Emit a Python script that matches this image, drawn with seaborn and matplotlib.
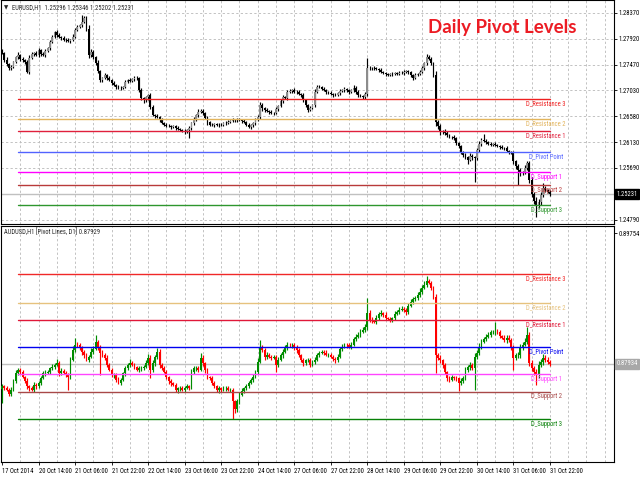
import warnings

import matplotlib

matplotlib.use("Agg")

import matplotlib.pyplot as plt
import matplotlib.transforms as mtransforms
import pandas as pd
import seaborn as sns
from matplotlib import font_manager

warnings.filterwarnings("ignore", category=UserWarning)

PIP = 0.0001

# EURUSD H1, 17 Oct 2014 .. 31 Oct 2014 (closes)
EUR_FIRST_OPEN = 1.2772
EUR_CLOSE = [
    1.2768, 1.2756, 1.2748, 1.2742, 1.2744, 1.2752, 1.2760, 1.2764, 1.2757, 1.2755,
    1.2752, 1.2735, 1.2759, 1.2766, 1.2768, 1.2764, 1.2773, 1.2766, 1.2764, 1.2772,
    1.2776, 1.2787, 1.2796, 1.2804, 1.2799, 1.2796, 1.2794, 1.2791, 1.2790, 1.2788,
    1.2790, 1.2796, 1.2808, 1.2813, 1.2816, 1.2822, 1.2828, 1.2810, 1.2764, 1.2770,
    1.2761, 1.2751, 1.2736, 1.2721, 1.2725, 1.2730, 1.2724, 1.2721, 1.2716, 1.2712,
    1.2709, 1.2707, 1.2708, 1.2709, 1.2718, 1.2721, 1.2720, 1.2722, 1.2724, 1.2725,
    1.2704, 1.2690, 1.2686, 1.2691, 1.2695, 1.2674, 1.2660, 1.2659, 1.2657, 1.2652,
    1.2647, 1.2644, 1.2641, 1.2642, 1.2640, 1.2641, 1.2638, 1.2636, 1.2635, 1.2633,
    1.2631, 1.2634, 1.2638, 1.2646, 1.2652, 1.2660, 1.2666, 1.2668, 1.2664, 1.2655,
    1.2648, 1.2644, 1.2643, 1.2645, 1.2643, 1.2644, 1.2643, 1.2646, 1.2647, 1.2649,
    1.2650, 1.2652, 1.2651, 1.2653, 1.2652, 1.2650, 1.2648, 1.2644, 1.2640, 1.2643,
    1.2646, 1.2652, 1.2657, 1.2678, 1.2672, 1.2669, 1.2667, 1.2666, 1.2664, 1.2664,
    1.2671, 1.2676, 1.2684, 1.2692, 1.2690, 1.2700, 1.2702, 1.2704, 1.2701, 1.2700,
    1.2697, 1.2695, 1.2686, 1.2678, 1.2669, 1.2673, 1.2677, 1.2701, 1.2709, 1.2709,
    1.2706, 1.2704, 1.2700, 1.2699, 1.2697, 1.2695, 1.2695, 1.2698, 1.2702, 1.2704,
    1.2706, 1.2703, 1.2700, 1.2703, 1.2708, 1.2700, 1.2695, 1.2693, 1.2692, 1.2697,
    1.2742, 1.2741, 1.2742, 1.2741, 1.2740, 1.2738, 1.2735, 1.2733, 1.2731, 1.2730,
    1.2732, 1.2731, 1.2733, 1.2732, 1.2734, 1.2733, 1.2735, 1.2736, 1.2735, 1.2730,
    1.2725, 1.2730, 1.2732, 1.2735, 1.2742, 1.2750, 1.2761, 1.2757, 1.2750, 1.2730,
    1.2648, 1.2641, 1.2631, 1.2633, 1.2630, 1.2625, 1.2622, 1.2622, 1.2620, 1.2612,
    1.2606, 1.2597, 1.2591, 1.2588, 1.2583, 1.2590, 1.2587, 1.2586, 1.2600, 1.2610,
    1.2617, 1.2616, 1.2613, 1.2610, 1.2609, 1.2610, 1.2609, 1.2607, 1.2605, 1.2603,
    1.2603, 1.2598, 1.2596, 1.2595, 1.2580, 1.2572, 1.2565, 1.2560, 1.2561, 1.2569,
    1.2577, 1.2548, 1.2524, 1.2512, 1.2505, 1.2510, 1.2522, 1.2534, 1.2530, 1.2528,
    1.2523,
]
# shadows above / below the body, in pips
EUR_UP_WICK = [
    3, 2, 4, 2, 3, 2, 3, 5, 2, 3, 2, 4, 6, 3, 2, 3, 4, 2, 3, 2,
    3, 4, 3, 2, 4, 3, 2, 3, 2, 3, 2, 4, 3, 4, 2, 12, 4, 3, 6, 5,
    3, 2, 4, 3, 2, 3, 2, 4, 2, 3, 2, 3, 2, 2, 3, 2, 3, 2, 4, 3,
    2, 3, 2, 3, 2, 4, 3, 2, 3, 2, 3, 2, 2, 3, 2, 3, 2, 3, 2, 2,
    3, 2, 4, 3, 5, 3, 4, 2, 3, 2, 3, 2, 3, 2, 2, 3, 2, 2, 3, 2,
    2, 3, 2, 2, 3, 2, 3, 2, 3, 2, 3, 4, 3, 5, 3, 2, 3, 2, 3, 2,
    3, 2, 4, 3, 2, 3, 3, 2, 3, 2, 3, 2, 3, 2, 2, 3, 2, 5, 4, 3,
    2, 3, 2, 2, 3, 2, 3, 2, 3, 2, 3, 2, 2, 3, 4, 2, 3, 2, 2, 3,
    17, 3, 2, 3, 2, 2, 3, 2, 2, 3, 2, 3, 2, 2, 3, 2, 3, 2, 3, 2,
    2, 3, 2, 3, 4, 3, 5, 4, 3, 2, 6, 3, 4, 2, 3, 2, 3, 2, 3, 3,
    2, 3, 2, 3, 2, 4, 3, 2, 4, 5, 3, 11, 3, 2, 3, 2, 3, 2, 2, 3,
    2, 3, 2, 3, 4, 3, 4, 3, 3, 5, 4, 3, 5, 4, 6, 5, 6, 8, 4, 3,
    3,
]
EUR_DOWN_WICK = [
    2, 3, 2, 4, 3, 2, 2, 3, 3, 2, 3, 2, 3, 2, 3, 2, 3, 4, 2, 3,
    2, 3, 2, 3, 3, 2, 3, 2, 3, 2, 3, 2, 2, 3, 2, 3, 2, 4, 5, 4,
    3, 4, 3, 4, 3, 2, 3, 2, 3, 2, 3, 2, 3, 2, 2, 3, 2, 3, 2, 3,
    4, 3, 5, 3, 4, 3, 2, 3, 2, 3, 2, 3, 2, 2, 3, 2, 3, 2, 3, 2,
    3, 2, 13, 4, 3, 2, 3, 2, 3, 2, 4, 3, 2, 3, 2, 3, 2, 2, 3, 2,
    3, 2, 3, 2, 2, 3, 2, 3, 2, 3, 4, 3, 2, 3, 4, 3, 2, 3, 2, 3,
    2, 3, 2, 3, 2, 3, 2, 3, 2, 3, 2, 3, 3, 4, 3, 2, 3, 2, 3, 2,
    3, 2, 3, 2, 2, 3, 2, 2, 3, 2, 3, 2, 3, 2, 3, 4, 3, 2, 3, 4,
    3, 2, 3, 2, 2, 3, 2, 2, 3, 2, 2, 3, 2, 2, 3, 2, 3, 2, 3, 3,
    4, 3, 2, 3, 2, 3, 3, 2, 3, 4, 6, 4, 5, 3, 4, 3, 2, 3, 2, 3,
    3, 4, 3, 4, 7, 3, 4, 41, 4, 3, 3, 2, 3, 2, 3, 2, 3, 2, 3, 2,
    3, 2, 3, 2, 4, 5, 26, 5, 4, 3, 4, 5, 6, 5, 21, 6, 5, 4, 3, 3,
    3,
]

# AUDUSD H1, same hours
AUD_FIRST_OPEN = 0.8758
AUD_CLOSE = [
    0.8762, 0.8760, 0.8757, 0.8752, 0.8757, 0.8769, 0.8780, 0.8785, 0.8782, 0.8775,
    0.8770, 0.8762, 0.8759, 0.8757, 0.8764, 0.8762, 0.8767, 0.8774, 0.8780, 0.8781,
    0.8782, 0.8787, 0.8789, 0.8792, 0.8795, 0.8781, 0.8784, 0.8781, 0.8778, 0.8775,
    0.8799, 0.8813, 0.8820, 0.8819, 0.8816, 0.8810, 0.8805, 0.8799, 0.8803, 0.8810,
    0.8814, 0.8824, 0.8817, 0.8809, 0.8806, 0.8802, 0.8792, 0.8785, 0.8778, 0.8778,
    0.8771, 0.8767, 0.8771, 0.8780, 0.8787, 0.8792, 0.8795, 0.8792, 0.8789, 0.8785,
    0.8787, 0.8788, 0.8789, 0.8795, 0.8802, 0.8785, 0.8794, 0.8803, 0.8810, 0.8792,
    0.8788, 0.8782, 0.8775, 0.8769, 0.8766, 0.8764, 0.8757, 0.8759, 0.8760, 0.8757,
    0.8760, 0.8762, 0.8760, 0.8782, 0.8787, 0.8788, 0.8785, 0.8802, 0.8794, 0.8785,
    0.8775, 0.8773, 0.8767, 0.8762, 0.8757, 0.8759, 0.8757, 0.8759, 0.8760, 0.8757,
    0.8757, 0.8741, 0.8730, 0.8741, 0.8750, 0.8756, 0.8759, 0.8762, 0.8767, 0.8771,
    0.8775, 0.8782, 0.8796, 0.8816, 0.8813, 0.8803, 0.8806, 0.8803, 0.8802, 0.8803,
    0.8792, 0.8799, 0.8805, 0.8810, 0.8816, 0.8820, 0.8819, 0.8820, 0.8817, 0.8812,
    0.8805, 0.8799, 0.8795, 0.8798, 0.8799, 0.8792, 0.8796, 0.8799, 0.8806, 0.8809,
    0.8810, 0.8809, 0.8806, 0.8806, 0.8803, 0.8800, 0.8799, 0.8803, 0.8814, 0.8817,
    0.8820, 0.8819, 0.8817, 0.8820, 0.8828, 0.8831, 0.8834, 0.8838, 0.8841, 0.8844,
    0.8864, 0.8855, 0.8853, 0.8852, 0.8857, 0.8863, 0.8864, 0.8862, 0.8857, 0.8856,
    0.8855, 0.8857, 0.8863, 0.8866, 0.8869, 0.8870, 0.8869, 0.8866, 0.8874, 0.8880,
    0.8883, 0.8885, 0.8889, 0.8894, 0.8899, 0.8903, 0.8908, 0.8906, 0.8899, 0.8887,
    0.8806, 0.8802, 0.8798, 0.8792, 0.8782, 0.8774, 0.8771, 0.8775, 0.8774, 0.8773,
    0.8767, 0.8770, 0.8774, 0.8785, 0.8789, 0.8792, 0.8788, 0.8803, 0.8809, 0.8817,
    0.8824, 0.8828, 0.8831, 0.8834, 0.8837, 0.8837, 0.8838, 0.8837, 0.8832, 0.8830,
    0.8827, 0.8830, 0.8827, 0.8816, 0.8802, 0.8805, 0.8806, 0.8816, 0.8820, 0.8824,
    0.8834, 0.8795, 0.8788, 0.8782, 0.8778, 0.8792, 0.8796, 0.8802, 0.8799, 0.8796,
    0.8793,
]
AUD_UP_WICK = [
    3, 2, 3, 2, 4, 3, 5, 3, 2, 3, 2, 3, 2, 3, 4, 2, 3, 2, 3, 4,
    3, 2, 4, 3, 5, 2, 3, 2, 3, 2, 4, 5, 10, 4, 3, 2, 3, 4, 3, 5,
    4, 10, 3, 2, 3, 2, 3, 2, 3, 2, 3, 4, 3, 2, 4, 3, 5, 2, 3, 2,
    3, 2, 3, 4, 5, 3, 4, 3, 6, 4, 3, 2, 3, 2, 3, 2, 3, 2, 2, 3,
    2, 3, 2, 4, 3, 2, 3, 7, 3, 2, 3, 2, 3, 2, 2, 3, 2, 3, 2, 3,
    2, 3, 2, 3, 4, 3, 2, 3, 2, 3, 4, 3, 5, 10, 4, 3, 4, 3, 2, 3,
    3, 4, 3, 4, 3, 4, 3, 2, 3, 2, 3, 2, 3, 2, 3, 2, 3, 4, 3, 2,
    3, 2, 3, 2, 3, 2, 3, 4, 3, 4, 3, 2, 3, 4, 3, 4, 3, 4, 3, 5,
    21, 4, 3, 2, 4, 3, 4, 2, 3, 2, 3, 2, 4, 3, 3, 4, 3, 2, 4, 3,
    4, 3, 4, 5, 4, 5, 8, 4, 3, 3, 3, 2, 3, 2, 3, 2, 3, 3, 2, 3,
    2, 3, 3, 4, 3, 4, 3, 5, 4, 5, 4, 3, 4, 3, 4, 3, 14, 4, 3, 2,
    3, 4, 3, 3, 4, 3, 4, 5, 4, 5, 11, 4, 3, 3, 4, 5, 4, 5, 3, 4,
    3,
]
AUD_DOWN_WICK = [
    19, 3, 2, 4, 3, 2, 3, 2, 3, 2, 3, 4, 3, 2, 3, 4, 2, 3, 2, 3,
    2, 3, 2, 3, 2, 4, 3, 2, 3, 18, 3, 2, 3, 2, 3, 4, 3, 2, 3, 2,
    3, 2, 4, 31, 3, 4, 3, 2, 3, 4, 3, 2, 3, 2, 3, 2, 3, 2, 3, 2,
    3, 4, 3, 2, 3, 11, 3, 4, 3, 4, 3, 2, 3, 4, 3, 2, 3, 4, 3, 2,
    3, 2, 3, 2, 3, 4, 3, 2, 3, 4, 3, 2, 3, 2, 3, 4, 3, 2, 3, 2,
    3, 25, 5, 4, 3, 2, 3, 2, 3, 2, 3, 2, 3, 2, 3, 4, 3, 2, 3, 2,
    10, 3, 2, 3, 2, 3, 2, 3, 4, 3, 2, 3, 4, 3, 2, 3, 2, 3, 2, 3,
    2, 3, 2, 3, 2, 3, 4, 3, 2, 3, 2, 3, 2, 3, 2, 3, 2, 3, 2, 3,
    3, 4, 3, 2, 3, 2, 3, 4, 3, 2, 3, 4, 3, 2, 3, 2, 3, 4, 3, 2,
    3, 2, 3, 2, 3, 2, 3, 2, 3, 4, 25, 4, 3, 4, 3, 4, 3, 2, 3, 4,
    12, 3, 4, 3, 3, 4, 3, 31, 3, 4, 3, 2, 3, 2, 3, 2, 3, 2, 3, 2,
    3, 4, 3, 3, 17, 4, 3, 4, 3, 2, 3, 5, 4, 4, 14, 4, 3, 4, 3, 3,
    3,
]

LEVEL_NAMES = ["D_Resistance 3", "D_Resistance 2", "D_Resistance 1", "D_Pivot Point",
               "D_Support 1", "D_Support 2", "D_Support 3"]
EUR_LEVELS = [1.26882, 1.26535, 1.26328, 1.25964, 1.25618, 1.25393, 1.25047]
AUD_LEVELS = [0.89184, 0.88780, 0.88544, 0.88168, 0.87785, 0.87545, 0.87165]
EUR_LEVEL_COLORS = ["#ee2020", "#e2b45c", "#e0203c", "#5262ff", "#ff00ff", "#b83a3a", "#2e962e"]
AUD_LEVEL_COLORS = ["#f02828", "#e6c27e", "#e01838", "#0000f0", "#ff44ff", "#a84848", "#078007"]

EUR_LAST = 1.25231
AUD_LAST = 0.87934
EUR_HEADER = "EURUSD,H1  1.25296 1.25346 1.25202 1.25231"
AUD_HEADER = "AUDUSD,H1 [Pivot Lines, D1] 0.87929"

EUR_TICKS = [1.28370, 1.27920, 1.27470, 1.27030, 1.26580, 1.26130, 1.25690, 1.24790]
AUD_TICKS = [0.89754, 0.86565]
TIME_LABELS = ["17 Oct 2014", "20 Oct 14:00", "21 Oct 06:00", "21 Oct 22:00", "22 Oct 14:00",
               "23 Oct 06:00", "23 Oct 22:00", "24 Oct 14:00", "27 Oct 06:00", "27 Oct 22:00",
               "28 Oct 14:00", "29 Oct 06:00", "29 Oct 22:00", "30 Oct 14:00", "31 Oct 06:00",
               "31 Oct 22:00"]
BARS_PER_LABEL = 16


def pick_font(candidates: list[str]) -> str:
    available = {font.name for font in font_manager.fontManager.ttflist}
    for name in candidates:
        if name in available:
            return name
    return "DejaVu Sans"


def build_candles(first_open, closes, up_wick, down_wick) -> pd.DataFrame:
    frame = pd.DataFrame({"close": closes, "up": up_wick, "down": down_wick})
    frame["bar"] = range(len(frame))
    frame["open"] = frame["close"].shift(1).fillna(first_open)
    frame["top"] = frame[["open", "close"]].max(axis=1)
    frame["bottom"] = frame[["open", "close"]].min(axis=1)
    frame["high"] = frame["top"] + frame["up"] * PIP
    frame["low"] = frame["bottom"] - frame["down"] * PIP
    frame["bull"] = frame["close"] >= frame["open"]
    return frame


def draw_candles(axis, frame, bull_body, bear_body, bull_wick, bear_wick) -> None:
    wick_colors = [bull_wick if bull else bear_wick for bull in frame["bull"]]
    body_colors = [bull_body if bull else bear_body for bull in frame["bull"]]
    axis.vlines(frame["bar"], frame["low"], frame["high"], colors=wick_colors, linewidth=0.85, zorder=3)
    heights = (frame["top"] - frame["bottom"]).clip(lower=0.5 * PIP)
    axis.bar(frame["bar"], heights, bottom=frame["bottom"], width=0.8, color=body_colors,
             linewidth=0, zorder=3)


def draw_levels(axis, values, colors, small_font, small_size) -> None:
    for name, value, color in zip(LEVEL_NAMES, values, colors):
        sns.lineplot(x=[7, 240], y=[value, value], color=color, linewidth=1.0, ax=axis,
                     legend=False, zorder=4)
        axis.annotate(name, xy=(238.3, value), xytext=(0, -1.2), textcoords="offset points",
                      ha="center", va="top", color=color, fontsize=small_size,
                      family=[small_font, "DejaVu Sans"], zorder=5)


def style_panel(axis, ticks, last_price, box_color, small_font, small_size, horizontal_grid) -> None:
    axis.set_xlim(-0.44, 268.07)
    for bar in range(8, 269, 8):
        axis.axvline(bar, color="#bdbdbd", linewidth=0.65, linestyle=(0, (2.5, 2.5)), zorder=0)
    if horizontal_grid:
        for tick in ticks:
            axis.axhline(tick, color="#bdbdbd", linewidth=0.65, linestyle=(0, (2.5, 2.5)), zorder=0)
    axis.axhline(last_price, color="#c0c0c0", linewidth=1.0, zorder=1)

    axis.yaxis.tick_right()
    axis.set_yticks(ticks)
    axis.set_yticklabels([f"{tick:.5f}" for tick in ticks], fontsize=small_size,
                         family=[small_font, "DejaVu Sans"])
    axis.tick_params(axis="y", length=2, width=0.6, pad=1.5, colors="black")
    for spine in axis.spines.values():
        spine.set_visible(True)
        spine.set_color("black")
        spine.set_linewidth(0.8)

    blend = mtransforms.blended_transform_factory(axis.transAxes, axis.transData)
    axis.text(1.004, last_price, f"{last_price:.5f}", transform=blend, ha="left", va="center",
              color="white", fontsize=small_size, family=[small_font, "DejaVu Sans"],
              bbox={"boxstyle": "square,pad=0.25", "facecolor": box_color, "edgecolor": box_color},
              clip_on=False, zorder=6)


def main() -> None:
    sns.set_theme(style="white", context="notebook")
    small_font = pick_font(["Liberation Sans Narrow", "Roboto Condensed", "Liberation Sans"])
    small_size = 4.7 if small_font != "Liberation Sans" else 3.9
    title_font = pick_font(["Lato", "Open Sans", "Liberation Sans"])
    plt.rcParams["font.family"] = [small_font, "DejaVu Sans"]
    plt.rcParams["axes.unicode_minus"] = False

    eur = build_candles(EUR_FIRST_OPEN, EUR_CLOSE, EUR_UP_WICK, EUR_DOWN_WICK)
    aud = build_candles(AUD_FIRST_OPEN, AUD_CLOSE, AUD_UP_WICK, AUD_DOWN_WICK)

    fig = plt.figure(figsize=(6.4, 4.8), dpi=100, facecolor="white")
    top_axis = fig.add_axes([1 / 640, 1 - 224 / 480, 613 / 640, 224 / 480])
    low_axis = fig.add_axes([1 / 640, 1 - 462 / 480, 613 / 640, 236 / 480])

    draw_candles(top_axis, eur, "#8c8c8c", "#000000", "#000000", "#000000")
    style_panel(top_axis, EUR_TICKS, EUR_LAST, "#000000", small_font, small_size, True)
    draw_levels(top_axis, EUR_LEVELS, EUR_LEVEL_COLORS, small_font, small_size)
    top_axis.set_ylim(1.24718, 1.28595)
    top_axis.set_xticks([])
    top_axis.set_xlabel("")
    top_axis.set_ylabel("")

    draw_candles(low_axis, aud, "#008c00", "#ff0000", "#008c00", "#ff0000")
    style_panel(low_axis, AUD_TICKS, AUD_LAST, "#a8a8a8", small_font, small_size, False)
    draw_levels(low_axis, AUD_LEVELS, AUD_LEVEL_COLORS, small_font, small_size)
    low_axis.set_ylim(0.86566, 0.89853)
    label_bars = [index * BARS_PER_LABEL for index in range(len(TIME_LABELS))]
    low_axis.set_xticks(label_bars)
    low_axis.set_xticklabels(TIME_LABELS, ha="left", fontsize=small_size, family=[small_font, "DejaVu Sans"])
    low_axis.tick_params(axis="x", length=2, width=0.6, pad=2.2, colors="black", bottom=True)
    low_axis.set_xlabel("")
    low_axis.set_ylabel("")

    fig.text(4 / 640, 1 - 7.5 / 480, "▼", fontsize=4, family=["DejaVu Sans"], va="center", ha="left")
    fig.text(12 / 640, 1 - 7.5 / 480, EUR_HEADER, fontsize=small_size, va="center", ha="left",
             family=[small_font, "DejaVu Sans"])
    fig.text(4 / 640, 1 - 232 / 480, AUD_HEADER, fontsize=small_size, va="center", ha="left",
             family=[small_font, "DejaVu Sans"])
    fig.text(502 / 640, 1 - 27 / 480, "Daily Pivot Levels", color="#ec1c24", fontsize=13.5,
             fontweight="bold", family=[title_font, "DejaVu Sans"], ha="center", va="center")

    fig.savefig("out.png", dpi=100, facecolor="white")
    plt.close(fig)


if __name__ == "__main__":
    main()
